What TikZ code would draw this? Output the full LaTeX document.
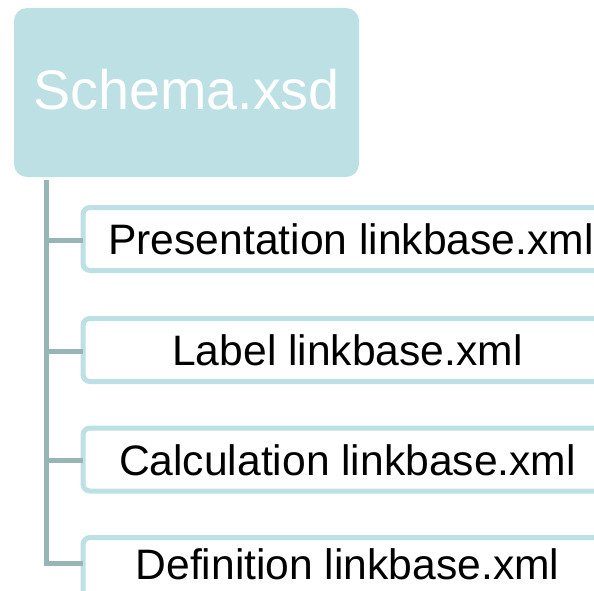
\documentclass[tikz,border=0pt]{standalone}
\usepackage{fontspec}
\setmainfont{Liberation Sans}
\begin{document}
\begin{tikzpicture}[x=1pt,y=-1pt,
  topbox/.style={fill=boxc, draw=none, rounded corners=13pt, minimum width=345pt, minimum height=169pt, inner sep=0pt, outer sep=0pt, text=white, text height=40pt, text depth=5pt, font=\fontsize{55.7}{60}\selectfont},
  childbox/.style={fill=white, draw=boxc, line width=5pt, rounded corners=7pt, minimum width=529pt, minimum height=63pt, inner sep=0pt, outer sep=0pt, text=black, text height=31pt, text depth=0pt, font=\fontsize{42.6}{46}\selectfont},
  conn/.style={draw=linec, line width=5pt}]
\definecolor{boxc}{HTML}{BCE0E3}
\definecolor{linec}{HTML}{97B4B7}
\useasboundingbox (0,0) rectangle (594,591);
\clip (0,0) rectangle (594,591);
\node[topbox] (top) at (186.5,92.5) {Schema.xsd};
\coordinate (trunkA) at (46.5,180);
\coordinate (trunkB) at (46.5,565.5);
\draw[conn] (trunkA) -- (trunkB);
\node[childbox] (c1) at (347.5,239) {\hspace*{7pt}Presentation linkbase.xml};
\node[childbox] (c2) at (347.5,350) {Label linkbase.xml};
\node[childbox] (c3) at (347.5,459.5) {Calculation linkbase.xml};
\node[childbox, text depth=10pt] (c4) at (347.5,569) {Definition linkbase.xml};
\coordinate (j1) at (46.5,240.5);
\coordinate (j2) at (46.5,351);
\coordinate (j3) at (46.5,460.5);
\coordinate (j4) at (46.5,563);
\draw[conn] (j1) -- (j1 -| c1.west);
\draw[conn] (j2) -- (j2 -| c2.west);
\draw[conn] (j3) -- (j3 -| c3.west);
\draw[conn] (j4) -- (j4 -| c4.west);
\end{tikzpicture}
\end{document}
